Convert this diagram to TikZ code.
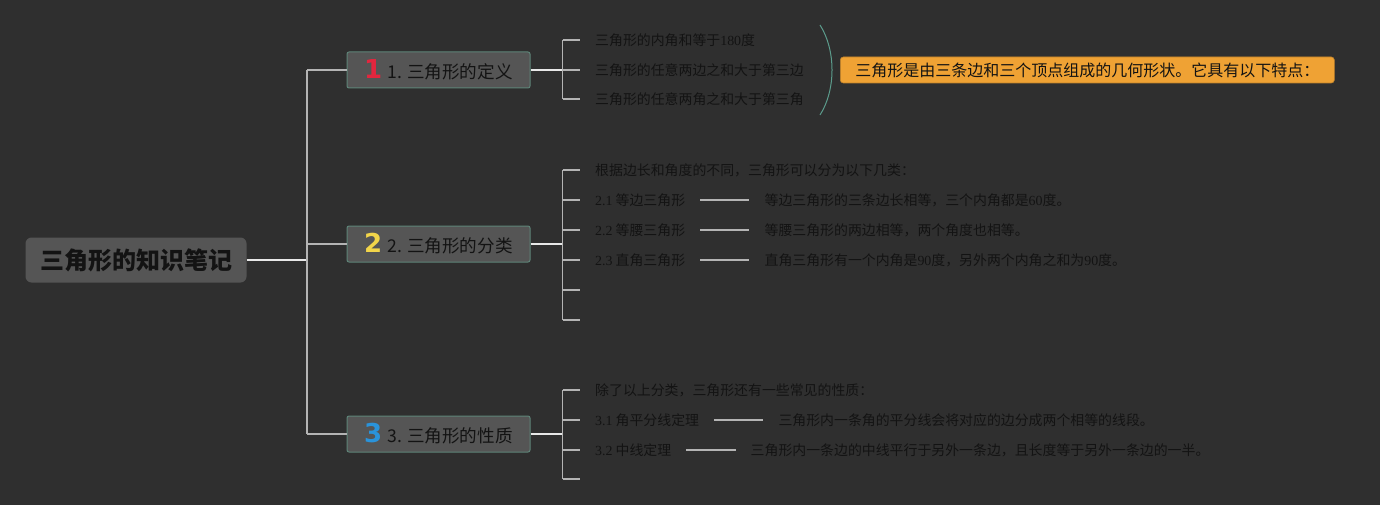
\documentclass[tikz,border=0pt]{standalone}
\usepackage{fontspec}
\setmainfont{Noto Sans CJK SC}
\newfontfamily\latin{Liberation Serif}
\newfontfamily\digit{DejaVu Sans}
\usetikzlibrary{positioning}
\definecolor{canvas}{HTML}{2F2F2F}
\definecolor{ink}{HTML}{131313}
\definecolor{slab}{HTML}{555555}
\definecolor{rim}{HTML}{5E8478}
\definecolor{twigc}{HTML}{B4B4B4}
\definecolor{stemc}{HTML}{E8E8E8}
\definecolor{note}{HTML}{EFA234}
\definecolor{arcc}{HTML}{5C9C8C}
\definecolor{one}{HTML}{E3263E}
\definecolor{two}{HTML}{F2D54A}
\definecolor{three}{HTML}{2A93DA}
\newcommand\lat[1]{{\latin #1}}
\newcommand\badge[2]{{\digit\fontsize{26}{26}\selectfont\bfseries\color{#1}#2}\hspace{5pt}}

\begin{document}
\begin{tikzpicture}[x=1pt,y=-1pt,
  every node/.style={text=ink,font=\fontsize{13.9}{16}\selectfont},
  rootbox/.style={fill=slab,rounded corners=6pt,minimum width=221pt,minimum height=45pt,inner sep=0pt,font=\fontsize{24}{26}\selectfont\bfseries},
  topic/.style={fill=slab,draw=rim,line width=1pt,rounded corners=2pt,minimum width=183pt,minimum height=36pt,inner sep=0pt,font=\fontsize{17.6}{20}\selectfont},
  leaf/.style={anchor=west,inner xsep=15pt,inner ysep=2pt},
  info/.style={right=49pt of #1,inner xsep=15pt,inner ysep=2pt},
  notebox/.style={fill=note,draw=note!80!black,line width=0.6pt,rounded corners=3pt,anchor=west,minimum height=26pt,inner xsep=15pt,inner ysep=0pt,font=\fontsize{16}{18}\selectfont},
  stem/.style={draw=stemc,line width=1.6pt},
  twig/.style={draw=twigc,line width=1.6pt}]
  \fill[canvas] (0,0) rectangle (1380,505);
  \useasboundingbox (0,0) rectangle (1380,505);

  \node[rootbox] (root) at (136,260) {三角形的知识笔记};
  \node[topic] (def) at (438.5,70) {\badge{one}{1}1. 三角形的定义};
  \node[topic] (cls) at (438.5,244) {\badge{two}{2}2. 三角形的分类};
  \node[topic] (prop) at (438.5,434) {\badge{three}{3}3. 三角形的性质};

  \node[leaf] (d1) at (580,40) {三角形的内角和等于\lat{180}度};
  \node[leaf] (d2) at (580,70) {三角形的任意两边之和大于第三边};
  \node[leaf] (d3) at (580,99) {三角形的任意两角之和大于第三角};
  \node[notebox] (sum) at (840,70) {三角形是由三条边和三个顶点组成的几何形状。它具有以下特点：};
  \draw[draw=arcc,line width=1pt] (820,25) .. controls (836,50) and (836,90) .. (820,115);

  \node[leaf] (c0) at (580,170) {根据边长和角度的不同，三角形可以分为以下几类：};
  \node[leaf] (c1) at (580,200) {\lat{2.1} 等边三角形};
  \node[leaf] (c2) at (580,230) {\lat{2.2} 等腰三角形};
  \node[leaf] (c3) at (580,260) {\lat{2.3} 直角三角形};
  \node[leaf] (c4) at (580,290) {};
  \node[leaf] (c5) at (580,320) {};
  \node[info=c1] (e1) {等边三角形的三条边长相等，三个内角都是\lat{60}度。};
  \node[info=c2] (e2) {等腰三角形的两边相等，两个角度也相等。};
  \node[info=c3] (e3) {直角三角形有一个内角是\lat{90}度，另外两个内角之和为\lat{90}度。};

  \node[leaf] (p0) at (580,390) {除了以上分类，三角形还有一些常见的性质：};
  \node[leaf] (p1) at (580,420) {\lat{3.1} 角平分线定理};
  \node[leaf] (p2) at (580,450) {\lat{3.2} 中线定理};
  \node[leaf] (p3) at (580,479) {};
  \node[info=p1] (f1) {三角形内一条角的平分线会将对应的边分成两个相等的线段。};
  \node[info=p2] (f2) {三角形内一条边的中线平行于另外一条边，且长度等于另外一条边的一半。};

  \draw[stem] (root.east) -- (307,260) coordinate (hub);
  \draw[twig] (hub|-def.west) -- (hub|-prop.west);
  \foreach \t in {def,cls,prop} \draw[twig] (hub|-\t.west) -- (\t.west);

  \draw[stem] (def.east) -- ++(32,0) coordinate (defk);
  \draw[twig] (defk|-d1.west) -- (defk|-d3.west);
  \foreach \t in {d1,d2,d3} \draw[twig] (defk|-\t.west) -- (\t.west);

  \draw[stem] (cls.east) -- ++(32,0) coordinate (clsk);
  \draw[twig] (clsk|-c0.west) -- (clsk|-c5.west);
  \foreach \t in {c0,c1,c2,c3,c4,c5} \draw[twig] (clsk|-\t.west) -- (\t.west);
  \foreach \a/\b in {c1/e1,c2/e2,c3/e3} \draw[twig] (\a.east) -- (\b.west);

  \draw[stem] (prop.east) -- ++(32,0) coordinate (propk);
  \draw[twig] (propk|-p0.west) -- (propk|-p3.west);
  \foreach \t in {p0,p1,p2,p3} \draw[twig] (propk|-\t.west) -- (\t.west);
  \foreach \a/\b in {p1/f1,p2/f2} \draw[twig] (\a.east) -- (\b.west);
\end{tikzpicture}
\end{document}
